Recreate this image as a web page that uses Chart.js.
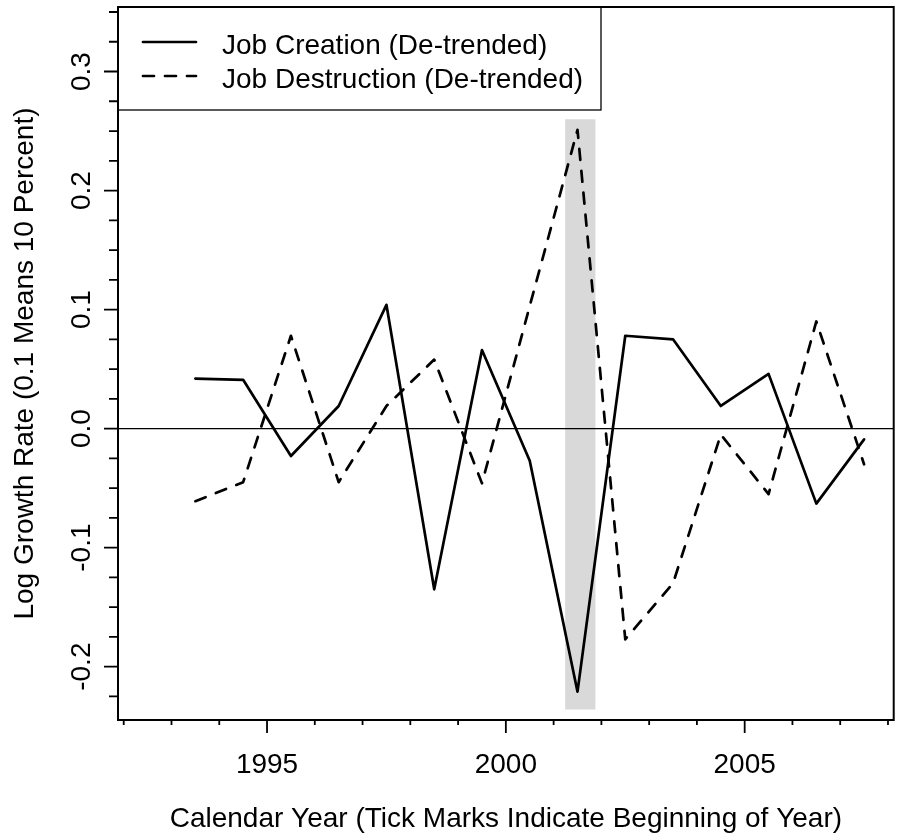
<!DOCTYPE html>
<html>
<head>
<meta charset="utf-8">
<title>Job Creation and Destruction</title>
<script src="https://cdn.jsdelivr.net/npm/chart.js@4.4.0/dist/chart.umd.min.js"></script>
<style>
  html, body { margin: 0; padding: 0; background: #fff; }
  #wrap { width: 916px; height: 837px; }
</style>
</head>
<body>
<div id="wrap"><canvas id="jobChart" width="916" height="837"></canvas></div>
<script>
// values (x = middle of each calendar year)
let years = [1993.5, 1994.5, 1995.5, 1996.5, 1997.5, 1998.5, 1999.5, 2000.5,
             2001.5, 2002.5, 2003.5, 2004.5, 2005.5, 2006.5, 2007.5];
let jobCreation = [0.042, 0.041, -0.023, 0.019, 0.104, -0.135, 0.066, -0.027,
                   -0.221, 0.078, 0.075, 0.019, 0.046, -0.063, -0.009];
let jobDestruction = [-0.061, -0.045, 0.078, -0.045, 0.019, 0.058, -0.046, 0.103,
                      0.251, -0.177, -0.130, -0.005, -0.055, 0.090, -0.030];

// recession shading (2001) and its vertical extent
let recessionYears = [2001.24, 2001.88];
let recessionBand = [-0.236, 0.26];

// axis ticks
let xTickYears = [1992, 1993, 1994, 1995, 1996, 1997, 1998, 1999, 2000,
                  2001, 2002, 2003, 2004, 2005, 2006, 2007, 2008];
let xLabelYears = [1995, 2000, 2005];
let yTickValues = [-0.225, -0.2, -0.175, -0.15, -0.125, -0.1, -0.075, -0.05, -0.025, 0,
                   0.025, 0.05, 0.075, 0.1, 0.125, 0.15, 0.175, 0.2, 0.225, 0.25,
                   0.275, 0.3, 0.325, 0.35];
let yLabelValues = [-0.2, -0.1, 0, 0.1, 0.2, 0.3];

let seriesLabels = ['Job Creation (De-trended)', 'Job Destruction (De-trended)'];

const FONT = '"Liberation Sans", Arial, Helvetica, sans-serif';
Chart.defaults.font.family = FONT;
Chart.defaults.color = '#000';

function isLabelled(list, v) {
    return list.some(function (l) { return Math.abs(l - v) < 1e-9; });
}

function toPoints(xs, ys) {
    let pts = [];
    for (let i = 0; i < xs.length; i++) pts.push({ x: xs[i], y: ys[i] });
    return pts;
}

// R-style axes: box, minor/major tick marks, rotated y labels, boxed legend
const rAxesPlugin = {
    id: 'rAxes',
    afterDraw(chart) {
        const ctx = chart.ctx;
        const area = chart.chartArea;
        const xs = chart.scales.x;
        const ys = chart.scales.y;
        ctx.save();
        ctx.strokeStyle = '#000';
        ctx.fillStyle = '#000';

        // plot box
        ctx.lineWidth = 2;
        ctx.strokeRect(area.left, area.top, area.right - area.left, area.bottom - area.top);

        // x tick marks
        ctx.lineWidth = 1.8;
        ctx.beginPath();
        xTickYears.forEach(function (yr) {
            let px = xs.getPixelForValue(yr);
            let len = isLabelled(xLabelYears, yr) ? 13 : 5;
            ctx.moveTo(px, area.bottom);
            ctx.lineTo(px, area.bottom + len);
        });
        ctx.stroke();

        // y tick marks
        ctx.beginPath();
        yTickValues.forEach(function (v) {
            let py = ys.getPixelForValue(v);
            let len = isLabelled(yLabelValues, v) ? 14 : 9;
            ctx.moveTo(area.left, py);
            ctx.lineTo(area.left - len, py);
        });
        ctx.stroke();

        // y tick labels, rotated like R's las = 0
        ctx.font = '28px ' + FONT;
        ctx.textAlign = 'center';
        ctx.textBaseline = 'alphabetic';
        yLabelValues.forEach(function (v) {
            let py = ys.getPixelForValue(v);
            ctx.save();
            ctx.translate(area.left - 28, py);
            ctx.rotate(-Math.PI / 2);
            ctx.fillText(v.toFixed(1), 0, 0);
            ctx.restore();
        });

        // legend in the top-left corner
        const lx = area.left, ly = area.top;
        ctx.lineWidth = 1.3;
        ctx.strokeRect(lx, ly, 483, 103);
        ctx.textAlign = 'left';
        let row = 0;
        chart.data.datasets.forEach(function (ds) {
            if (!ds.inLegend) return;
            let yy = ly + 35 + row * 34;
            ctx.save();
            ctx.lineWidth = ds.borderWidth;
            ctx.lineCap = 'round';
            ctx.setLineDash(ds.borderDash || []);
            ctx.beginPath();
            ctx.moveTo(lx + 25, yy);
            ctx.lineTo(lx + 78, yy);
            ctx.stroke();
            ctx.restore();
            ctx.fillText(ds.label, lx + 104, yy + 12);
            row++;
        });
        ctx.restore();
    }
};

let c = document.getElementById('jobChart');
let Ctxt = c.getContext('2d');

let ChartInst = new Chart(Ctxt, {
    type: 'line',
    data: {
        datasets: [
            {
                label: 'Recession',
                inLegend: false,
                data: [{ x: recessionYears[0], y: recessionBand[1] },
                       { x: recessionYears[1], y: recessionBand[1] }],
                fill: { value: recessionBand[0] },
                backgroundColor: '#d9d9d9',
                borderWidth: 0,
                pointRadius: 0,
            },
            {
                label: seriesLabels[0],
                inLegend: true,
                data: toPoints(years, jobCreation),
                borderColor: '#000',
                borderWidth: 2.7,
                borderCapStyle: 'round',
                borderJoinStyle: 'round',
                pointRadius: 0,
                tension: 0,
                fill: false,
            },
            {
                label: seriesLabels[1],
                inLegend: true,
                data: toPoints(years, jobDestruction),
                borderColor: '#000',
                borderWidth: 2.7,
                borderDash: [11, 11],
                borderCapStyle: 'round',
                borderJoinStyle: 'round',
                pointRadius: 0,
                tension: 0,
                fill: false,
            }
        ]
    },
    options: {
        responsive: false,
        animation: false,
        events: [],
        layout: { padding: { top: 7, right: 3, bottom: 0, left: 0 } },
        plugins: {
            legend: { display: false },
            tooltip: { enabled: false },
            filler: { drawTime: 'beforeDraw' },
        },
        scales: {
            x: {
                type: 'linear',
                position: 'bottom',
                min: 1991.88,
                max: 2008.12,
                afterBuildTicks: function (scale) {
                    scale.ticks = xTickYears.map(function (v) { return { value: v }; });
                },
                afterFit: function (scale) { scale.height = 117; },
                grid: { display: false, drawTicks: false, tickLength: 0 },
                border: { display: false },
                ticks: {
                    autoSkip: false,
                    maxRotation: 0,
                    padding: 28,
                    font: { size: 28 },
                    callback: function (v) { return isLabelled(xLabelYears, v) ? String(v) : ''; }
                },
                title: {
                    display: true,
                    text: 'Calendar Year (Tick Marks Indicate Beginning of Year)',
                    font: { size: 28 },
                    padding: { top: 0, bottom: 1.4 }
                }
            },
            y: {
                type: 'linear',
                position: 'left',
                min: -0.2448,
                max: 0.3542,
                afterBuildTicks: function (scale) {
                    scale.ticks = yTickValues.map(function (v) { return { value: v }; });
                },
                afterFit: function (scale) { scale.width = 118; },
                grid: {
                    drawTicks: false,
                    color: function (ctx) {
                        return ctx.tick && Math.abs(ctx.tick.value) < 1e-9 ? '#000' : 'rgba(0,0,0,0)';
                    },
                    lineWidth: 1.3
                },
                border: { display: false },
                ticks: { display: false },
                title: {
                    display: true,
                    text: 'Log Growth Rate (0.1 Means 10 Percent)',
                    font: { size: 28 },
                    padding: { top: 8.5, bottom: 0 }
                }
            }
        }
    },
    plugins: [rAxesPlugin]
});
</script>
</body>
</html>
